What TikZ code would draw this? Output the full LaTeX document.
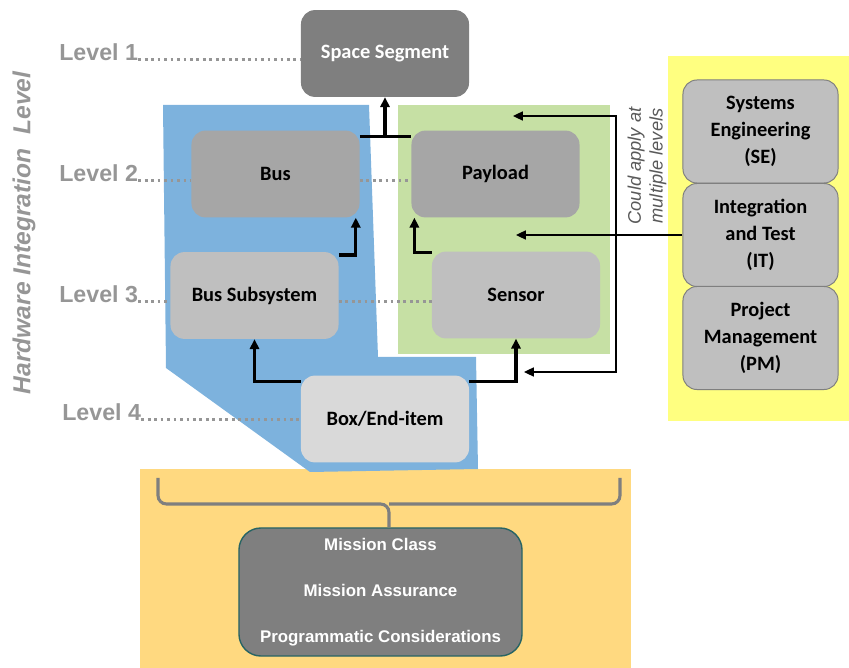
\documentclass[tikz,border=0pt]{standalone}
\usepackage{fontspec}
\setmainfont{Carlito}
\newfontfamily\arialfont{Liberation Sans}
\usetikzlibrary{arrows.meta}

\definecolor{darkbox}{HTML}{7F7F7F}
\definecolor{midbox}{HTML}{A6A6A6}
\definecolor{lightbox}{HTML}{BFBFBF}
\definecolor{palebox}{HTML}{D9D9D9}
\definecolor{busblue}{RGB}{125,178,221}
\definecolor{payloadgreen}{RGB}{198,224,164}
\definecolor{crossyellow}{RGB}{255,255,128}
\definecolor{missiongold}{RGB}{255,217,128}
\definecolor{levelgray}{RGB}{150,150,150}
\definecolor{notegray}{HTML}{595959}
\definecolor{tealedge}{RGB}{40,100,100}

\begin{document}
\begin{tikzpicture}[x=0.025cm,y=-0.025cm,>={Triangle[length=7pt,width=6.5pt]},
    blk/.style={rectangle,rounded corners=0.35cm,minimum width=4.2cm,
                minimum height=2.17cm,align=center,
                font=\bfseries\fontsize{14.5}{17}\selectfont},
    xbox/.style={blk,draw=darkbox,line width=0.7pt,fill=lightbox,
                 minimum width=3.875cm,minimum height=2.575cm,
                 font=\bfseries\fontsize{14.5}{19}\selectfont},
    lvl/.style={anchor=base west,inner xsep=0pt,text=levelgray,
                font=\arialfont\bfseries\fontsize{16.5}{18}\selectfont},
    dots/.style={levelgray,line width=2.2pt,dash pattern=on 2pt off 2.6pt,
                 transform canvas={yshift=1.3pt}},
    thk/.style={line width=2.3pt},
    thn/.style={line width=0.9pt}]
  \useasboundingbox (0,0) rectangle (849,668);

  % coloured groupings
  \fill[missiongold] (140,469) rectangle (631,668);
  \fill[busblue] (163,105) -- (369,105) -- (378,357) -- (476,357)
                 -- (478,469) -- (310,472) -- (166,368) -- cycle;
  \fill[payloadgreen] (398,105) rectangle (610,354);
  \fill[crossyellow] (668,56) rectangle (849,421);

  % hardware blocks
  \node[blk,fill=darkbox,text=white] (Space)   at (385,53.5)  {Space Segment};
  \node[blk,fill=midbox]             (Bus)     at (275.5,174) {Bus};
  \node[blk,fill=midbox]             (Payload) at (495.5,174) {Payload};
  \node[blk,fill=lightbox]           (BusSub)  at (254.5,295.5) {Bus Subsystem};
  \node[blk,fill=lightbox]           (Sensor)  at (516,295)   {Sensor};
  \node[blk,fill=palebox]            (Box)     at (385,419)   {Box/End-item};

  % cross-cutting disciplines
  \node[xbox] (SE) at (760.5,131.5) {Systems\\Engineering\\(SE)};
  \node[xbox] (IT) at (760.5,235)   {Integration\\and Test\\(IT)};
  \node[xbox] (PM) at (760.5,338)   {Project\\Management\\(PM)};

  \node[blk,fill=darkbox,draw=tealedge,line width=1pt,text=white,
        rounded corners=0.55cm,minimum width=7.075cm,minimum height=3.2cm,
        font=\arialfont\bfseries\fontsize{12}{14}\selectfont]
    (Mission) at (380.5,592)
    {Mission Class\\[18.5pt]Mission Assurance\\[18.5pt]Programmatic Considerations};

  % levels
  \node[lvl] (L1) at (59,61)  {Level 1};
  \node[lvl] (L2) at (59,182) {Level 2};
  \node[lvl] (L3) at (59,303) {Level 3};
  \node[lvl] (L4) at (62,421) {Level 4};
  \node[rotate=90,text=levelgray,
        font=\arialfont\bfseries\itshape\fontsize{17.5}{20}\selectfont]
    (hil) at (24,233) {Hardware Integration\ \ Level};

  \draw[dots] (L1.base east) -- (L1.base east -| Space.west);
  \draw[dots] (L2.base east) -- (L2.base east -| Bus.west);
  \draw[dots] (L2.base -| Bus.east) -- (L2.base -| Payload.west);
  \draw[dots] (L3.base east) -- (L3.base east -| BusSub.west);
  \draw[dots] (L3.base -| BusSub.east) -- (L3.base -| Sensor.west);
  \draw[dots] (L4.base east) -- (L4.base east -| Box.west);

  % integration arrows
  \coordinate (j1) at ([yshift=-0.15cm]Bus.north east);
  \draw[thk] (j1) -- ([yshift=-0.15cm]Payload.north west);
  \draw[thk,->] (Space.south |- j1) -- (Space.south);
  \draw[thk,->] ([yshift=-0.08cm]BusSub.north east) -| ([xshift=-0.1cm]Bus.south east);
  \draw[thk,->] ([yshift=-0.03cm]Sensor.north west) -| ([xshift=0.08cm]Payload.south west);
  \draw[thk,->] ([yshift=-0.15cm]Box.north west) -| (BusSub.south);
  \draw[thk,->] ([yshift=-0.15cm]Box.north east) -| (Sensor.south);

  % I&T applies at several levels
  \coordinate (spl) at (616,235);
  \coordinate (t1) at (513,116);
  \coordinate (t3) at (524,372);
  \draw[thn,->] (IT.west) -- (IT.west -| Sensor.north);
  \draw[thn,->] (spl) |- (t1);
  \draw[thn,->] (spl) |- (t3);
  \node[rotate=90,align=center,text=notegray,
        font=\arialfont\itshape\fontsize{13}{15.5}\selectfont]
    (note) at (647,166) {Could apply at\\multiple levels};

  % brace over the mission box
  \coordinate (bl) at (158,478);
  \coordinate (br) at (620,478);
  \coordinate (bm) at (389,504);
  \draw[darkbox,line width=2.2pt,rounded corners=6pt]
    (bl) |- (bm) -- (bm |- Mission.north);
  \draw[darkbox,line width=2.2pt,rounded corners=6pt] (br) |- (bm);
\end{tikzpicture}
\end{document}
